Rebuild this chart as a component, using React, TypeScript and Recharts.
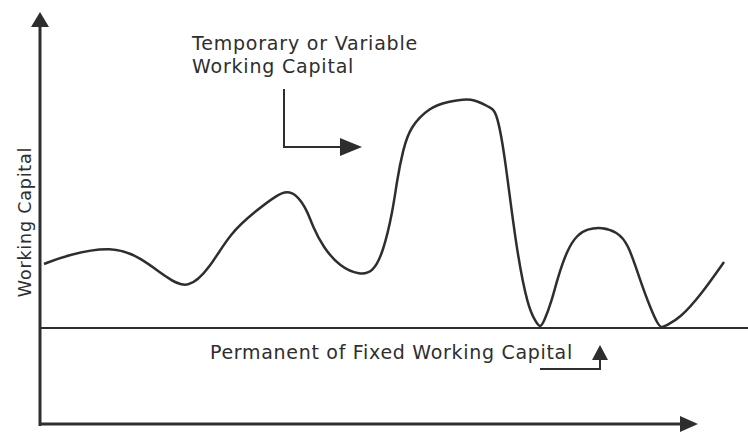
import React from 'react';
import { LineChart, Line, XAxis, YAxis, ReferenceLine } from 'recharts';

// time along the horizontal axis (arbitrary units)
const time = [
  1, 6.75, 18, 25, 31.75, 37, 42.5, 47.5, 54.25, 59.25, 61.75, 64.25, 66.75, 68.25, 70.75, 75, 80,
  83.25, 85.75, 88.25, 89.25, 90.75, 92.5, 97.5, 101.75, 108, 112.5, 114, 116, 119, 122, 124, 125, 126,
  128, 129.25, 131.75, 134.25, 136.75, 140.5, 144.25, 147, 150, 152.5, 154.5, 155.5, 156.75, 160, 165, 171,
];
// total working capital at each time
const workingCapital = [
  40, 42.25, 44.5, 41.75, 36.5, 33.5, 39, 47.75, 53.5, 57.25, 58.25, 57.25, 53.5, 49.25, 44.25, 39.25, 37.25,
  38, 42.75, 53.5, 61, 68.5, 74.25, 79.25, 80.5, 81.75, 79, 78.5, 69, 44, 29, 25.5, 24, 25.5,
  31, 36, 43.5, 47.25, 48.75, 49.25, 48, 45.25, 36, 29.25, 24.75, 24, 24.75, 26.5, 32, 40.5,
];
const permanentLevel = 24;

const data = time.map((t, i) => ({ t, wc: workingCapital[i] }));

const INK = '#2e2e2e';
const FONT = '"DejaVu Sans", sans-serif';

const arrow = (len: number, half: number, width: number) => (props: any) => {
  const { x1, y1, x2, y2 } = props;
  const dx = x2 - x1;
  const dy = y2 - y1;
  const d = Math.sqrt(dx * dx + dy * dy) || 1;
  const ux = dx / d;
  const uy = dy / d;
  const bx = x2 - ux * len;
  const by = y2 - uy * len;
  const pts = `${x2},${y2} ${bx - uy * half},${by + ux * half} ${bx + uy * half},${by - ux * half}`;
  return (
    <g>
      <line x1={x1} y1={y1} x2={bx} y2={by} stroke={INK} strokeWidth={width} />
      <polygon points={pts} fill={INK} />
    </g>
  );
};

const plain = (width: number) => (props: any) => {
  const { x1, y1, x2, y2 } = props;
  return <line x1={x1} y1={y1} x2={x2} y2={y2} stroke={INK} strokeWidth={width} strokeLinecap="square" />;
};

export default function App() {
  return (
    <div style={{ position: 'absolute', left: 0, top: 0, width: 748, height: 432, background: '#fff' }}>
      <LineChart width={748} height={432} data={data} margin={{ top: 12, right: 0, bottom: 8, left: 40 }}>
        <XAxis type="number" dataKey="t" domain={[0, 177]} hide />
        <YAxis type="number" domain={[0, 103]} hide />

        {/* axes */}
        <ReferenceLine segment={[{ x: 0, y: -0.5 }, { x: 0, y: 103 }]} ifOverflow="visible" shape={arrow(15, 9, 3)} />
        <ReferenceLine segment={[{ x: 0, y: 0 }, { x: 164.5, y: 0 }]} ifOverflow="visible" shape={arrow(18, 8, 3)} />

        {/* permanent working capital level */}
        <ReferenceLine segment={[{ x: 0, y: permanentLevel }, { x: 177, y: permanentLevel }]} ifOverflow="visible" shape={plain(2)} />

        <Line type="basis" dataKey="wc" stroke={INK} strokeWidth={2.5} dot={false} isAnimationActive={false} />

        {/* annotation arrows */}
        <ReferenceLine segment={[{ x: 61, y: 83.5 }, { x: 61, y: 69.25 }]} ifOverflow="visible" shape={plain(2)} />
        <ReferenceLine segment={[{ x: 61, y: 69.25 }, { x: 80.5, y: 69.25 }]} ifOverflow="visible" shape={arrow(22, 9, 2)} />
        <ReferenceLine segment={[{ x: 125.25, y: 13.75 }, { x: 140, y: 13.75 }]} ifOverflow="visible" shape={plain(2)} />
        <ReferenceLine segment={[{ x: 140, y: 13.75 }, { x: 140, y: 19.75 }]} ifOverflow="visible" shape={arrow(15, 8, 2)} />

        <text x={192} y={50} fontFamily={FONT} fontSize={19} letterSpacing={0.8} fill={INK}>Temporary or Variable</text>
        <text x={192} y={73} fontFamily={FONT} fontSize={19} letterSpacing={0.8} fill={INK}>Working Capital</text>
        <text x={210} y={359} fontFamily={FONT} fontSize={19} letterSpacing={0.7} fill={INK}>
          Permanent of Fixed Working Capital
        </text>
        <text
          x={31}
          y={222}
          textAnchor="middle"
          transform="rotate(-90 31 222)"
          fontFamily={FONT}
          fontSize={17.5}
          letterSpacing={0.8}
          fill={INK}
        >
          Working Capital
        </text>
      </LineChart>
    </div>
  );
}
